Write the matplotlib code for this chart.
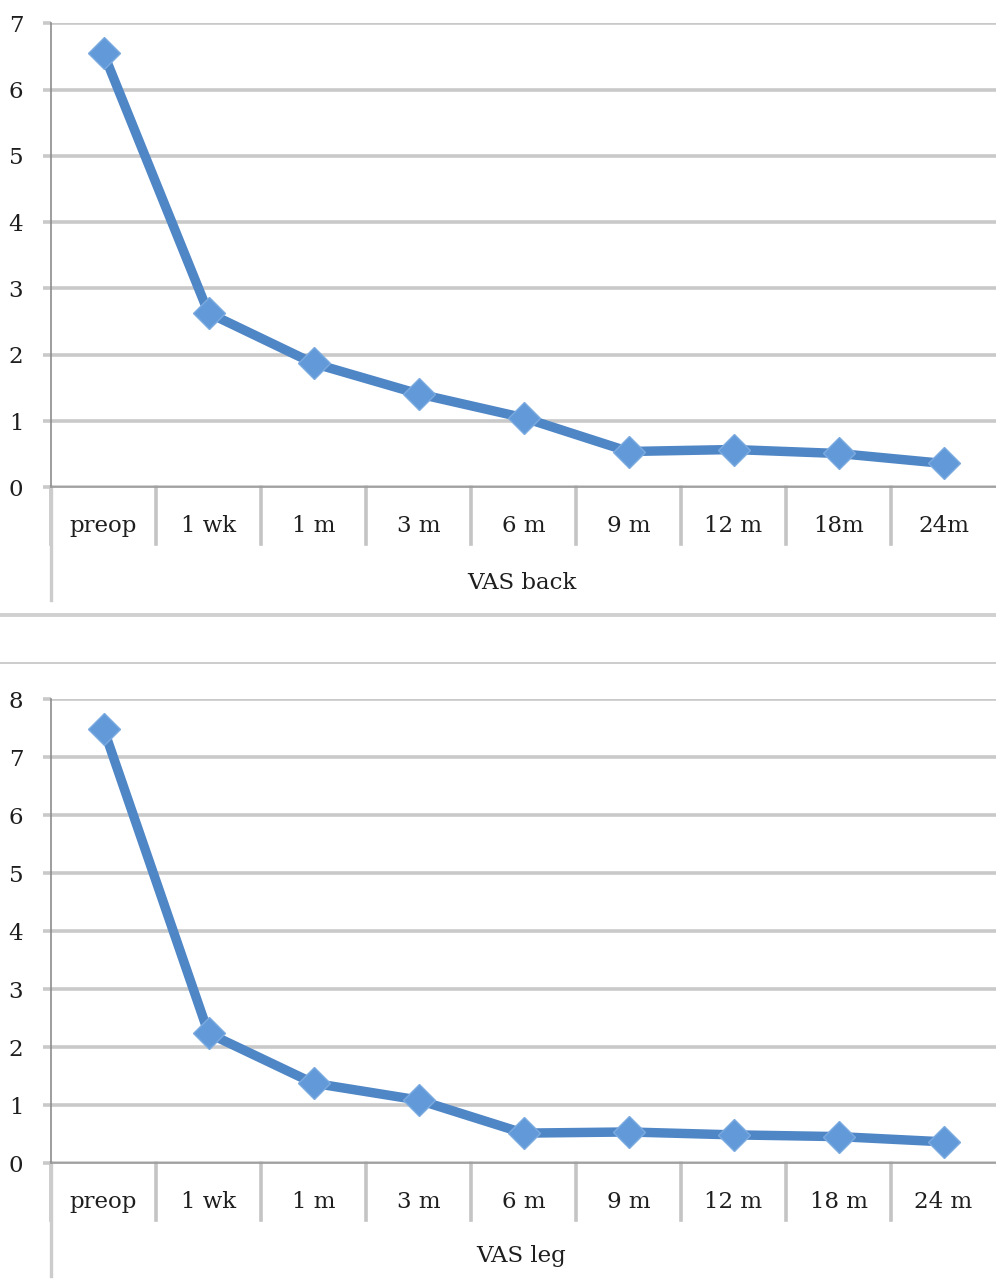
import matplotlib
matplotlib.use("Agg")
import matplotlib.pyplot as plt
from matplotlib.lines import Line2D
import matplotlib.transforms as mtransforms

categories_back = ["preop", "1 wk", "1 m", "3 m", "6 m", "9 m", "12 m", "18m", "24m"]
vas_back = [6.55, 2.63, 1.87, 1.41, 1.05, 0.54, 0.57, 0.51, 0.36]

categories_leg = ["preop", "1 wk", "1 m", "3 m", "6 m", "9 m", "12 m", "18 m", "24 m"]
vas_leg = [7.49, 2.24, 1.38, 1.09, 0.52, 0.54, 0.49, 0.46, 0.37]

yticks_back = list(range(0, 8))
yticks_leg = list(range(0, 9))

W, H = 996, 1280
fig = plt.figure(figsize=(W / 100, H / 100), dpi=100)
fig.patch.set_facecolor("white")

FONT = "DejaVu Serif"
FS = 16.5
TXT = "#1e1e1e"
GRID = "#c9c9c9"
LINE_C = "#4f86c6"
MARK_C = "#6299d8"


def px_axes(top_px, bottom_px, left_px=51, right_px=996):
    return [left_px / W, 1 - bottom_px / H, (right_px - left_px) / W, (bottom_px - top_px) / H]


def draw(ax, cats, vals, yticks, group_label, group_y):
    n = len(cats)
    x = list(range(n))
    ax.set_xlim(-0.5, n - 0.5)
    ax.set_ylim(yticks[0], yticks[-1])
    ax.set_yticks(yticks)
    ax.set_yticklabels([str(t) for t in yticks], fontfamily=FONT, fontsize=FS, color=TXT)
    ax.yaxis.grid(True, color=GRID, linewidth=2.6)
    ax.set_axisbelow(True)
    ax.tick_params(axis="y", length=6, width=2.6, color=GRID, pad=14)
    ax.set_xticks(x)
    ax.set_xticklabels(cats, fontfamily=FONT, fontsize=FS, color=TXT)
    ax.tick_params(axis="x", length=0, pad=20)
    for s in ["top", "right"]:
        ax.spines[s].set_visible(False)
    ax.spines["left"].set_color("#8c8c8c")
    ax.spines["left"].set_linewidth(1.2)
    ax.spines["bottom"].set_color("#9a9a9a")
    ax.spines["bottom"].set_linewidth(1.2)
    ax.spines["bottom"].set_zorder(3)

    trans = mtransforms.blended_transform_factory(ax.transData, ax.transAxes)
    # category dividers
    for b in range(n):
        bx = b - 0.5
        ax.add_line(Line2D([bx, bx], [0, -0.122], transform=trans, color="#c4c4c4",
                           linewidth=2.6, clip_on=False))
    # outer left line for group level
    ax.add_line(Line2D([-0.5, -0.5], [0, -0.242], transform=trans, color="#cccccc",
                       linewidth=2.4, clip_on=False))

    ax.plot(x, vals, color=LINE_C, linewidth=6.8, solid_joinstyle="round",
            marker="D", markersize=16, markerfacecolor=MARK_C,
            markeredgecolor="#7aaae0", markeredgewidth=1.0, zorder=5, clip_on=False)

    ax.text(0.498, group_y, group_label, transform=ax.transAxes, ha="center", va="center",
            fontfamily=FONT, fontsize=FS, color=TXT)


ax1 = fig.add_axes(px_axes(23.3, 487.3))
draw(ax1, categories_back, vas_back, yticks_back, "VAS back", -0.206)

ax2 = fig.add_axes(px_axes(699.0, 1163.3))
draw(ax2, categories_leg, vas_leg, yticks_leg, "VAS leg", -0.2)

# horizontal separators between panels
fig.add_artist(Line2D([0, 1], [1 - 615 / H, 1 - 615 / H], transform=fig.transFigure,
                      color="#d0d0d0", linewidth=2.8))
fig.add_artist(Line2D([0, 1], [1 - 663 / H, 1 - 663 / H], transform=fig.transFigure,
                      color="#c8c8c8", linewidth=1.3))

fig.savefig("out.png", dpi=100, facecolor="white")
